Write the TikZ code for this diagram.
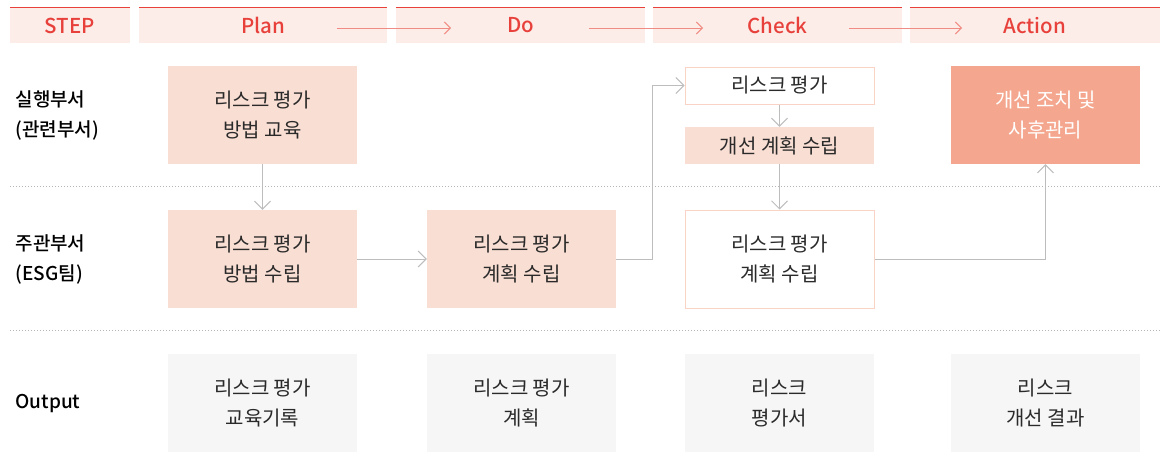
\documentclass[tikz,border=0pt]{standalone}
\usepackage{fontspec}
\setmainfont{Noto Sans CJK KR}[BoldFont={Noto Sans CJK KR Medium}]
\usetikzlibrary{arrows.meta}

\definecolor{hdrred}{HTML}{E8413C}
\definecolor{hdrfill}{HTML}{FCEDE8}
\definecolor{hdrarrow}{HTML}{F08C84}
\definecolor{salmon}{HTML}{F9DED3}
\definecolor{actfill}{HTML}{F4A78E}
\definecolor{outfill}{HTML}{F5F6F5}
\definecolor{edgecol}{HTML}{F8D3C6}
\definecolor{lncol}{HTML}{BDBDBD}
\definecolor{dotcol}{HTML}{B5B5B5}
\definecolor{txtcol}{HTML}{2A2A2A}

\begin{document}
\begin{tikzpicture}[
    x=1pt, y=-1pt,
    hdr/.style={fill=hdrfill, text=hdrred, minimum height=35pt, inner sep=0pt,
        font=\fontsize{20.5}{22}\selectfont\bfseries},
    hdrline/.style={draw=hdrred, line width=1.2pt},
    harrow/.style={draw=hdrarrow, line width=1pt, -{Straight Barb[length=6pt, width=12pt]}},
    lbl/.style={anchor=west, align=left, text=black, font=\fontsize{19}{30}\selectfont\bfseries},
    stepbox/.style={minimum width=189pt, minimum height=98pt, inner sep=0pt, align=center,
        text=txtcol, font=\fontsize{20}{30}\selectfont},
    plainbox/.style={stepbox, fill=salmon},
    openbox/.style={stepbox, fill=white, draw=edgecol, line width=1pt},
    actbox/.style={stepbox, fill=actfill, text=white},
    outbox/.style={stepbox, fill=outfill},
    slim/.style={minimum height=37pt},
    conn/.style={draw=lncol, line width=1pt, -{Straight Barb[length=8pt, width=16pt]}},
    sep/.style={draw=dotcol, line width=1pt, dotted}
]
    \useasboundingbox (0,0) rectangle (1160,461);

    % ==========================================
    % Header row
    % ==========================================
    \node[hdr, minimum width=120pt] (hstep) at (70, 25.5) {STEP};
    \node[hdr, minimum width=248pt] (hplan) at (263, 25.5) {Plan};
    \node[hdr, minimum width=249pt] (hdo) at (520.5, 25.5) {Do};
    \node[hdr, minimum width=249pt] (hcheck) at (777.5, 25.5) {Check};
    \node[hdr, minimum width=250pt] (haction) at (1035, 25.5) {Action};

    \foreach \h in {hstep, hplan, hdo, hcheck, haction}
        \draw[hdrline] (\h.north west) -- (\h.north east);

    \draw[harrow] ([xshift=74pt, yshift=-2.5pt]hplan.center) -- ([xshift=-69.5pt, yshift=-2.5pt]hdo.center);
    \draw[harrow] ([xshift=68.5pt, yshift=-2.5pt]hdo.center) -- ([xshift=-74.5pt, yshift=-2.5pt]hcheck.center);
    \draw[harrow] ([xshift=71.5pt, yshift=-2.5pt]hcheck.center) -- ([xshift=-73pt, yshift=-2.5pt]haction.center);

    % ==========================================
    % Row labels and separators
    % ==========================================
    \node[lbl] (lbl_exec) at (12, 115) {실행부서\\(관련부서)};
    \node[lbl] (lbl_esg) at (12, 259) {주관부서\\(ESG팀)};
    \node[lbl] (lbl_out) at (12, 403) {Output};

    \coordinate (sep1_l) at (10, 186);
    \coordinate (sep1_r) at (1160, 186);
    \coordinate (sep2_l) at (10, 330);
    \coordinate (sep2_r) at (1160, 330);
    \draw[sep] (sep1_l) -- (sep1_r);
    \draw[sep] (sep2_l) -- (sep2_r);

    % ==========================================
    % Step boxes
    % ==========================================
    % --- Plan ---
    \node[plainbox] (plan_edu) at (262.5, 115) {리스크 평가\\방법 교육};
    \node[plainbox] (plan_method) at (262.5, 259) {리스크 평가\\방법 수립};

    % --- Do ---
    \node[plainbox] (do_plan) at (521.5, 259) {리스크 평가\\계획 수립};

    % --- Check ---
    \node[openbox, slim] (chk_eval) at (779.5, 85.5) {리스크 평가};
    \node[plainbox, slim] (chk_improve) at (779.5, 145.5) {개선 계획 수립};
    \node[openbox] (chk_plan) at (779.5, 259) {리스크 평가\\계획 수립};

    % --- Action ---
    \node[actbox] (act_fix) at (1045.5, 115) {개선 조치 및\\사후관리};

    % --- Output ---
    \node[outbox] (out_plan) at (262.5, 403) {리스크 평가\\교육기록};
    \node[outbox] (out_do) at (521.5, 403) {리스크 평가\\계획};
    \node[outbox] (out_check) at (779.5, 403) {리스크\\평가서};
    \node[outbox] (out_action) at (1045.5, 403) {리스크\\개선 결과};

    % ==========================================
    % Connectors
    % ==========================================
    \draw[conn] (plan_edu.south) -- (plan_method.north);
    \draw[conn] (plan_method.east) -- (do_plan.west);
    \draw[conn] (do_plan.east) -- ++(36,0) |- (chk_eval.west);
    \draw[conn] (chk_eval.south) -- (chk_improve.north);
    \draw[conn] (chk_improve.south) -- (chk_plan.north);
    \draw[conn] (chk_plan.east) -| (act_fix.south);

\end{tikzpicture}
\end{document}
